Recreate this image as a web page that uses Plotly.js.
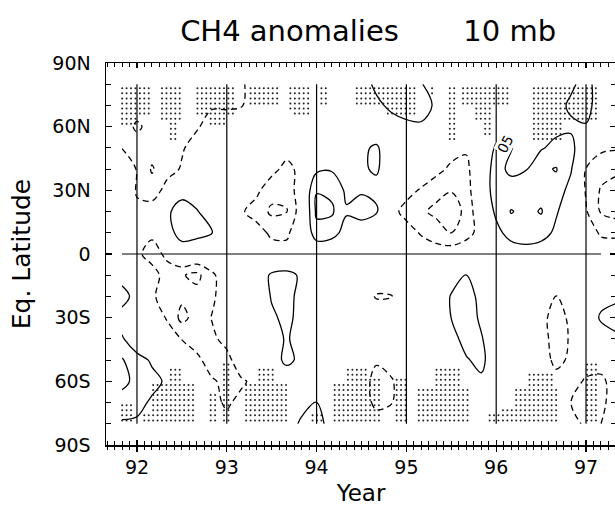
<!DOCTYPE html>
<html><head><meta charset="utf-8">
<script src="https://cdn.plot.ly/plotly-3.0.1.min.js"></script>
<style>html,body{margin:0;padding:0;overflow:hidden;background:#fff}#chart{width:617px;height:506px}</style>
</head><body><div id="chart"></div>
<script>
// time axis (years, 2-month steps) and equivalent latitude rows
const times = [91.833, 92.000, 92.167, 92.333, 92.500, 92.667, 92.833, 93.000, 93.167, 93.333,
               93.500, 93.667, 93.833, 94.000, 94.167, 94.333, 94.500, 94.667, 94.833, 95.000,
               95.167, 95.333, 95.500, 95.667, 95.833, 96.000, 96.167, 96.333, 96.500, 96.667,
               96.833, 97.000, 97.167, 97.333];
const lats = [-80, -70, -60, -50, -40, -30, -20, -10, 0, 10, 20, 30, 40, 50, 60, 70, 80];
// CH4 anomalies (units of 0.01 ppmv), one row per latitude (south to north)
const ch4Anom = [
 [4.5, 4.5, 4, 2, -2, -3, -4, -4, -3, -1, 0, 2, 6, 7, 3, 0, -2, -3, -3, -2, -1, 0, 0, 0, 0, 0, -1, -1, -2, -3, -4, -5.5, -5, -4],
 [7, 6, 4.5, 2, -2, -3, -4, -5.5, -4, -2, 0, 1, 3, 5.2, 2, -1, -3, -6, -5.2, -2, -1, 0, 0, 0, 1, 0, -1, -1, -2, -3, -5, -6, -5.5, -4],
 [12, 8, 6, 4.5, 0, 0, -4.5, -6, -5.5, -4, 0, 2, 1, 2, 0, -1, -3, -6.5, -5.5, -2, -1, 0, 1, 2, 4, 1, 0, 0, -1, -3, -3.5, -5.5, -5.5, -4],
 [10.5, 6.5, 4.5, 1, -1, -4, -7, -6.5, -2, 0, 3, 6, 4, 1, 0, -1, -2, -4.5, -3, -1, -1, 0, 2, 4.5, 6.5, 1, -1, -1, -2, -6.5, -4, -3, -4, -4],
 [5.5, 2, -1, -2, -5.2, -7, -6, -3.5, -1, 0, 3, 5.5, 3, 1, 0, -1, -2, -3, -2, -1, -1, 0, 3, 7, 5.5, 1, -1, -2, -3, -7, -4.5, 0, 2, 4],
 [3, 1, -1, -5.5, -11.5, -8, -4.8, -2, -1, 0, 4, 6.5, 3, 1, 0, -1, -2, -2, -2, -1, -1, 0, 5.1, 8, 4, 0, -1, -2, -3.5, -7, -4, 0.5, 5.8, 7],
 [7, 3, -4, -8, -9, -8, -6, -2, -1, 0, 5.5, 7, 3, 1, -1, -2, -2.5, -5.4, -5.2, -2, -1, 0, 5.5, 8, 3, 0, -1, -2, -2, -5.3, -2, 0, 3, 4],
 [3, 1, -3, -7, -9.5, -11.5, -6, -2, -1, 1, 6, 7, 4, 1, -1, -2, -2, -2, -2, -1, -1, 0, 2, 5.3, 2, 0, -1, -1, -2, -2, -1, 0, 1, 2],
 [0, -4, -7, -4, 2, 1, 0, -1, -1, -1, -2.5, -3, -1, 0, 0, 0, -1, -1, -1, -1.5, -2, -3, -1.5, 1, 0, 0, 2, 2.5, 2, 0, 0, -1, -1, -2],
 [0, -2, -4, 3, 7, 6.5, 5.2, 0, -1.5, -3, -6, -6, -1, 8, 7, 3, 2, 1, -1, -3, -5.5, -7, -10.2, -8, -2, 3.5, 7, 8, 7, 4, 1, -1, -6, -6],
 [-1, -4, -2, 4, 7.5, 5.5, 1, -2, -4.5, -7, -11, -10.2, -2, 11, 10.8, 5.5, 7, 5.5, -3.5, -6.5, -9, -11.5, -12, -9, 0, 6, 10.3, 8.5, 10.4, 5.5, 2, -4.5, -10.5, -12],
 [0, -5.5, -8, -3, 3, 1, -1, -1.5, -2.5, -4, -8, -9, -1, 9.8, 9, 4, 4.5, 4, -1, -3.5, -5.5, -8, -9.8, -8, 2, 7, 7, 7, 8, 8, 3, -5.5, -10.5, -12],
 [1, -5.5, -10.5, -7, -4.5, -1, -1, -1, -1.5, -2, -3.5, -6.5, -3.5, 4, 4.5, 3.5, 4.6, 5.4, 3, -1, -2, -3.5, -6, -7, 2.5, 6.5, 4, 4.8, 9, 10.3, 5.5, -5.2, -8, -9],
 [-5.2, -7, -8, -8, -5.5, -3, -1.5, -1, -1, -1.5, -2, -3, -1, 2, 3, 3, 4.5, 5.4, 3, 1, 0, -1, -3, -4, 2, 5.5, 5.2, 3, 4.5, 6.5, 6, 2, -4, -4.5],
 [-7, -11, -8, -7, -7, -5.5, -3, -3, -2, -1, 0, 1, 1, 1.5, 2, 2, 2.5, 3, 4, 4, 4.2, 2, 0, -1, 0, 3, 3.5, 2, 3, 3.5, 4.5, 4.8, -1, -2],
 [-6, -7, -6.5, -6, -6, -6, -5.5, -5.5, -5.2, -3, -1, 0, 0, 1, 2, 2.5, 3.5, 4.5, 5.5, 7, 7.5, 4, 2, 1, 0, 1, 2, 2, 3, 4, 5.5, 6, 3.5, 2],
 [-5.5, -6, -5.5, -5.5, -5.5, -5.5, -5.5, -5.5, -5.5, -3, 0, 1, 1, 2, 3, 3, 4, 5.5, 5.5, 6, 5.3, 2, 2, 1, 0, 1, 1, 1, 2, 3, 4.5, 6, 3.5, 2]
];
// stippled (masked) periods: [start year, end year, latitude limit]
const nhStipple = [
 [91.83, 91.98, 61.6], [92.00, 92.12, 66], [92.28, 92.32, 64], [92.33, 92.42, 54], [92.43, 92.51, 64],
 [92.67, 92.78, 66], [92.79, 92.98, 61.6], [93.01, 93.07, 66], [93.24, 93.57, 71], [93.70, 93.74, 69],
 [93.75, 93.90, 66], [94.02, 94.12, 71], [94.43, 94.77, 71], [94.78, 95.10, 66], [95.26, 95.30, 76],
 [95.45, 95.54, 54], [95.62, 95.72, 71], [95.73, 95.82, 62], [95.83, 95.93, 57], [95.94, 96.02, 71],
 [96.06, 96.12, 71], [96.43, 96.73, 54], [96.74, 97.10, 64]
];
const shStipple = [
 [91.83, 91.96, -71], [92.07, 92.16, -76], [92.17, 92.32, -61.4], [92.33, 92.51, -54.3], [92.52, 92.65, -61.4],
 [92.79, 92.87, -66], [92.98, 93.04, -52], [93.18, 93.34, -61.4], [93.35, 93.54, -54.3], [93.55, 93.67, -61.4],
 [93.93, 94.06, -76], [94.20, 94.29, -61.4], [94.30, 94.55, -54.3], [94.56, 94.70, -59], [94.90, 95.02, -59],
 [95.13, 95.29, -64], [95.30, 95.57, -54.3], [95.58, 95.67, -64], [95.91, 96.06, -76], [96.07, 96.19, -73],
 [96.20, 96.33, -63.8], [96.34, 96.62, -56.7], [96.63, 96.66, -63.8], [97.02, 97.13, -52]
];
const yearTicks = [92, 93, 94, 95, 96, 97];
const yearLabels = ['92', '93', '94', '95', '96', '97'];
const latTicks = [-90, -60, -30, 0, 30, 60, 90];
const latLabels = ['90S', '60S', '30S', '0', '30N', '60N', '90N'];
const obsEnd = 97.167;

// stipple dot grid (approx. 18-day x 2.4 deg spacing)
const dotT0 = 91.835, dotDT = 0.0493, dotDLat = 2.39;
const sx = [], sy = [];
for (let n = 0; ; n++) {
  const t = dotT0 + n * dotDT;
  if (t > 97.2) break;
  for (const [a, b, lim] of nhStipple) {
    if (t >= a - 0.012 && t <= b + 0.012) {
      for (let la = 78.1; la >= lim - 0.6; la -= dotDLat) { sx.push(t); sy.push(la); }
      break;
    }
  }
  for (const [a, b, lim] of shStipple) {
    if (t >= a - 0.012 && t <= b + 0.012) {
      for (let la = -78.4; la <= lim + 0.6; la += dotDLat) { sx.push(t); sy.push(la); }
      break;
    }
  }
}

const FONT = 'DejaVu Sans, Verdana, sans-serif';
const posTrace = {
  type: 'contour', x: times, y: lats, z: ch4Anom, showscale: false, hoverinfo: 'skip',
  autocontour: false, contours: {start: 5, end: 30, size: 5, coloring: 'none'},
  line: {color: '#000', width: 1.3, smoothing: 1.0}
};
const negTrace = {
  type: 'contour', x: times, y: lats, z: ch4Anom, showscale: false, hoverinfo: 'skip',
  autocontour: false, contours: {start: -30, end: -5, size: 5, coloring: 'none'},
  line: {color: '#000', width: 1.3, smoothing: 1.0, dash: '6px,4px'}
};
const dots = {
  type: 'scatter', mode: 'markers', x: sx, y: sy, xaxis: 'x2', yaxis: 'y', hoverinfo: 'skip',
  marker: {size: 2, color: '#222', symbol: 'circle'}
};

const shapes = [];
const latMin = Math.min(...lats), latMax = Math.max(...lats);
yearTicks.forEach(yr => shapes.push({type: 'line', xref: 'x', yref: 'y', x0: yr, x1: yr, y0: latMin, y1: latMax,
  line: {color: '#000', width: 1.2}}));
shapes.push({type: 'line', xref: 'x', yref: 'y', x0: times[0], x1: obsEnd, y0: 0, y1: 0, line: {color: '#000', width: 1.2}});

const xr = [91.655, 97.334];
const layout = {
  width: 617, height: 506, margin: {l: 106, r: 1, t: 63, b: 61},
  paper_bgcolor: '#fff', plot_bgcolor: '#fff', showlegend: false,
  font: {family: FONT, color: '#000'},
  title: {text: 'CH4 anomalies\u00a0\u00a0\u00a0\u00a0\u00a0\u00a0\u00a010 mb', x: 0.514, xref: 'paper', xanchor: 'center',
          y: 0.94, yref: 'container', yanchor: 'middle', font: {family: FONT, size: 29, color: '#000'}},
  xaxis: {range: xr, tickvals: yearTicks, ticktext: yearLabels, ticks: 'outside', ticklen: 5, tickwidth: 1.2, tickcolor: '#000',
          minor: {tick0: 92, dtick: 1/12, ticks: 'outside', ticklen: 3, tickwidth: 1, tickcolor: '#000', showgrid: false},
          showline: true, linewidth: 1.5, linecolor: '#000', mirror: true, showgrid: false, zeroline: false,
          tickfont: {family: FONT, size: 19}, title: {text: 'Year', font: {family: FONT, size: 23}, standoff: 8}},
  xaxis2: {range: xr, overlaying: 'x', anchor: 'y', tickvals: yearTicks, showticklabels: false, ticks: 'inside', ticklen: 5,
          tickwidth: 1.2, tickcolor: '#000',
          minor: {tick0: 92, dtick: 1/12, ticks: 'inside', ticklen: 4, tickwidth: 1, tickcolor: '#000', showgrid: false},
          mirror: 'ticks', showline: false, showgrid: false, zeroline: false},
  yaxis: {range: [-90, 90], tickvals: latTicks, ticktext: latLabels, ticks: 'inside', ticklen: 6, tickwidth: 1.2, tickcolor: '#000',
          minor: {tick0: 0, dtick: 10, ticks: 'inside', ticklen: 5, tickwidth: 1, tickcolor: '#000', showgrid: false},
          showline: true, linewidth: 1.5, linecolor: '#000', mirror: 'ticks', showgrid: false, zeroline: false,
          ticklabelstandoff: 10, tickfont: {family: FONT, size: 19},
          title: {text: 'Eq. Latitude', font: {family: FONT, size: 25}, standoff: 14}},
  shapes: shapes,
  annotations: [{x: 96.1, y: 52, xref: 'x', yref: 'y', text: '05', showarrow: false, textangle: -62,
                 font: {family: FONT, size: 14, color: '#000'}, bgcolor: '#fff', borderpad: 0}]
};
Plotly.newPlot('chart', [dots, posTrace, negTrace], layout, {staticPlot: true, displayModeBar: false});
</script></body></html>
